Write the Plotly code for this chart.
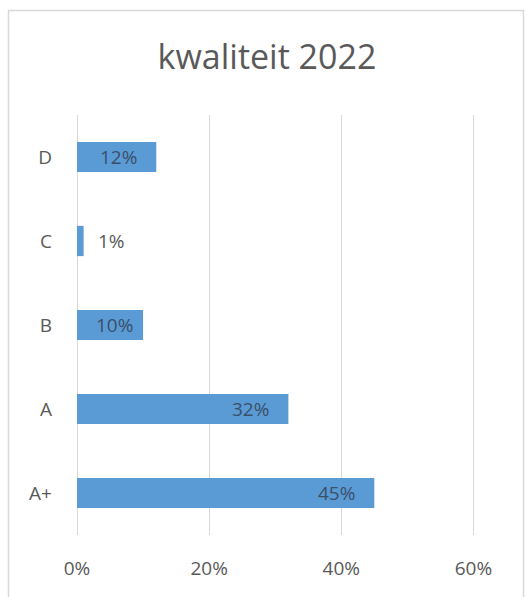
import plotly.graph_objects as go

# Energy-quality classes and their share (percent)
categories = ["A+", "A", "B", "C", "D"]
shares = [45, 32, 10, 1, 12]
x_ticks = [0, 20, 40, 60]
x_tick_labels = ["0%", "20%", "40%", "60%"]

BAR_BLUE = "#5b9bd5"
TEXT_GREY = "#595959"
LABEL_DARK = "#3a4f68"
GRID = "#d9d9d9"
FONT = "Open Sans, Liberation Sans, sans-serif"

W, H = 527, 597
L, R, T, B = 77, 47, 115, 62
pw, ph = W - L - R, H - T - B

fig = go.Figure(
    go.Bar(
        x=shares,
        y=categories,
        orientation="h",
        marker=dict(color=BAR_BLUE, line=dict(width=0)),
        hoverinfo="skip",
    )
)

# value labels: inside near the bar end, or just outside for tiny bars
annotations = []
for cat, val in zip(categories, shares):
    inside = val >= 5
    annotations.append(
        dict(
            x=val,
            y=cat,
            xref="x",
            yref="y",
            text=f"{val}%",
            showarrow=False,
            xanchor="right" if inside else "left",
            xshift=(-17 if val >= 12 else -8) if inside else 12,
            font=dict(family=FONT, size=19, color=LABEL_DARK if inside else TEXT_GREY),
        )
    )

# light chart-area frame around everything
def px_to_paper_x(px):
    return (px - L) / pw

def px_to_paper_y(py):
    return (H - B - py) / ph

fig.update_layout(
    width=W,
    height=H,
    margin=dict(l=L, r=R, t=T, b=B, pad=0),
    paper_bgcolor="white",
    plot_bgcolor="white",
    showlegend=False,
    bargap=0.64,
    title=dict(
        text="kwaliteit 2022",
        x=267 / W,
        xanchor="center",
        y=1 - 57 / H,
        yanchor="middle",
        yref="container",
        font=dict(family=FONT, size=34, color=TEXT_GREY),
    ),
    xaxis=dict(
        range=[0, 61],
        tickvals=x_ticks,
        ticktext=x_tick_labels,
        showgrid=True,
        gridcolor=GRID,
        gridwidth=1,
        zeroline=True,
        zerolinecolor=GRID,
        zerolinewidth=1,
        showline=False,
        ticks="",
        ticklabelstandoff=20,
        tickfont=dict(family=FONT, size=19, color=TEXT_GREY),
        fixedrange=True,
    ),
    yaxis=dict(
        showgrid=False,
        zeroline=False,
        showline=False,
        ticks="",
        ticklabelstandoff=24,
        tickfont=dict(family=FONT, size=19, color=TEXT_GREY),
        fixedrange=True,
    ),
    annotations=annotations,
    shapes=[
        dict(
            type="rect",
            xref="paper",
            yref="paper",
            x0=px_to_paper_x(8.5),
            x1=px_to_paper_x(523.5),
            y0=px_to_paper_y(H + 20),
            y1=px_to_paper_y(10.5),
            line=dict(color=GRID, width=1.5),
            fillcolor="rgba(0,0,0,0)",
            layer="below",
        )
    ],
)

fig.write_html("out.html", config={"displayModeBar": False})
